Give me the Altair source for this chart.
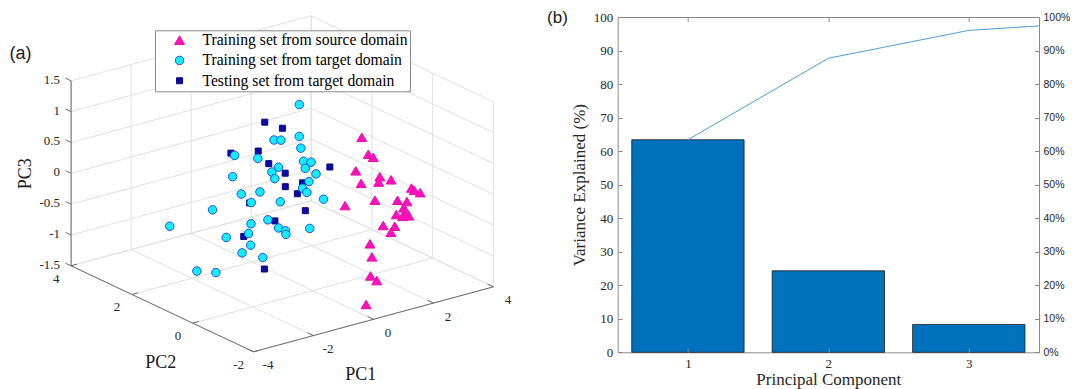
import altair as alt
import pandas as pd

SERIF = "Liberation Serif"
SANS = "Liberation Sans"

# ------------------------------------------------------------------ data (a)
GROUPS = ["Training set from source domain",
          "Training set from target domain",
          "Testing set from target domain"]

# training set from source domain (triangles)
src_pc1 = [1.94, 1.65, 2.12, 1.03, 2.44, 2.20, 2.51, 2.02, 2.99, 3.69, 3.38, 1.18, 1.67, 3.03,
           3.14, 2.93, 3.19, 2.90, 3.30, 2.91, 2.45, 2.33, 2.81, 0.49, 0.25, 0.61, 0.31, 0.26]
src_pc2 = [0.3, -0.2, 0.1, -0.4, 0.2, 0.0, -0.1, 0.4, -0.3, 0.3, -0.2, 0.1, -0.4, 0.2,
           0.0, -0.1, 0.4, -0.3, 0.3, -0.2, 0.1, -0.4, 0.2, -1.4, -1.7, -1.3, -1.8, -1.5]
src_pc3 = [0.66, 0.54, 0.36, 0.40, -0.02, -0.03, -0.01, -0.12, -0.16, -0.43, -0.31, -0.30, -0.16, -0.48,
           -0.47, -0.52, -0.78, -0.60, -0.80, -0.55, -0.79, -0.67, -0.97, -0.48, -0.59, -1.04, -0.96, -1.41]

# testing set from target domain (squares)
tst_pc1 = [-0.18, -0.30, -1.51, -1.31, -0.35, 0.40, 1.18, 0.10, 0.47, 1.01, -1.19, 0.97, -0.55, -0.88, -0.80]
tst_pc2 = [1.4, 0.7, 1.2, 0.5, 1.1, 1.3, 0.6, 1.0, 0.8, 1.5, 0.9, 1.2, 0.7, 1.4, 0.8]
tst_pc3 = [0.93, 1.01, 0.65, 0.82, 0.35, 0.05, 0.21, -0.06, 0.00, -0.41, -0.13, -0.61, -0.46, -0.83, -1.23]

# training set from target domain (circles)
trn_pc1 = [0.87, -0.48, 0.46, 0.16, 0.72, -1.59, -1.12, 0.91, 0.86, 0.28, 1.07, -0.55, 1.63, -2.06,
           -0.15, 0.89, 0.37, 1.02, -1.47, -0.34, 1.68, -0.27, -0.53, -2.73, -3.65, -0.48, -0.43, 0.31,
           0.02, 1.32, -0.74, -2.07, -0.62, -1.46, -1.24, -0.65, -3.15, -2.01]
trn_pc2 = [1.3, 0.8, 1.5, 0.6, 1.1, 1.0, 0.7, 1.2, 0.9, 1.4, 1.3, 0.8, 1.5, 0.6,
           1.1, 1.0, 0.7, 1.2, 0.9, 1.4, 1.3, 0.8, 1.5, 0.6, 1.1, 1.0, 0.7, 1.2,
           0.9, 1.4, 1.3, 0.8, 1.5, 0.6, 1.1, 1.0, 0.7, 1.2]
trn_pc3 = [1.10, 0.82, 0.53, 0.84, 0.46, 0.67, 0.63, 0.20, 0.26, 0.14, 0.04, 0.31, -0.17, 0.48,
           0.08, -0.08, -0.05, -0.32, 0.05, -0.18, -0.54, -0.21, -0.35, 0.03, -0.23, -0.52, -0.59, -0.85,
           -0.80, -0.99, -0.62, -0.55, -0.84, -0.71, -0.98, -1.11, -0.93, -1.22]

pc1_ticks = [-4, -2, 0, 2, 4]
pc2_ticks = [-2, 0, 2, 4]
pc3_ticks = [-1.5, -1, -0.5, 0, 0.5, 1, 1.5]
pc1_labels = ["-4", "-2", "0", "2", "4"]
pc2_labels = ["-2", "0", "2", "4"]
pc3_labels = ["-1.5", "-1", "-0.5", "0", "0.5", "1", "1.5"]

# ------------------------------------------------------------------ data (b)
components = [1, 2, 3]
variance = [63.4, 24.3, 8.3]
cum_pc = [1, 2, 3, 4]
cumulative = [63.4, 87.7, 96.0, 98.7]
pct_ticks = [0, 10, 20, 30, 40, 50, 60, 70, 80, 90, 100]

# ------------------------------------------------------------------ 3-D view
# oblique projection of the MATLAB-style 3-D box (page pixel units)
ORIGIN = (253.5, 350.5)   # (PC1=-4, PC2=-2, PC3=-1.5)
U1 = (30.0, -8.125)       # one unit of PC1
U2 = (-30.4, -14.33)      # one unit of PC2
U3 = (0.0, -61.67)        # one unit of PC3


def px(a, b):
    return f"{ORIGIN[0]} + ({U1[0]})*(datum.{a}+4) + ({U2[0]})*(datum.{b}+2)"


def py(a, b, c):
    return (f"{ORIGIN[1]} + ({U1[1]})*(datum.{a}+4) + ({U2[1]})*(datum.{b}+2)"
            f" + ({U3[1]})*(datum.{c}+1.5)")


WA, HA = 560, 373.3
xA = alt.Scale(domain=[8, 8 + WA], range=[0, WA])
yA = alt.Scale(domain=[15.7, 15.7 + HA], range=[0, HA])


def XA(f):
    return alt.X(f, type="quantitative", scale=xA, axis=None)


def YA(f):
    return alt.Y(f, type="quantitative", scale=yA, axis=None)


def segments(rows):
    return pd.DataFrame(rows, columns=["a1", "b1", "c1", "a2", "b2", "c2"])


grid_rows = []
for a in pc1_ticks:
    grid_rows.append((a, -2, -1.5, a, 4, -1.5))
    grid_rows.append((a, 4, -1.5, a, 4, 1.5))
for b in pc2_ticks:
    grid_rows.append((-4, b, -1.5, 4, b, -1.5))
    grid_rows.append((4, b, -1.5, 4, b, 1.5))
for c in pc3_ticks:
    grid_rows.append((-4, 4, c, 4, 4, c))
    grid_rows.append((4, -2, c, 4, 4, c))

axis_rows = [(-4, -2, -1.5, 4, -2, -1.5), (-4, -2, -1.5, -4, 4, -1.5), (-4, 4, -1.5, -4, 4, 1.5)]
for a in pc1_ticks:
    axis_rows.append((a, -2, -1.5, a, -1.8, -1.5))
for b in pc2_ticks:
    axis_rows.append((-4, b, -1.5, -3.8, b, -1.5))
for c in pc3_ticks:
    axis_rows.append((-4, 4, c, -4, 4.18, c))


def seg_layer(df, color, width):
    return alt.Chart(df).transform_calculate(
        sx1=px("a1", "b1"), sy1=py("a1", "b1", "c1"),
        sx2=px("a2", "b2"), sy2=py("a2", "b2", "c2"),
    ).mark_rule(color=color, strokeWidth=width).encode(
        x=XA("sx1"), y=YA("sy1"), x2="sx2:Q", y2="sy2:Q")


grid = seg_layer(segments(grid_rows), "#e0e0e0", 1)
axes3d = seg_layer(segments(axis_rows), "#6a6a6a", 1)


def tick_labels(a, b, c, text, **kw):
    df = pd.DataFrame({"a": a, "b": b, "c": c, "t": text})
    return alt.Chart(df).transform_calculate(
        sx=px("a", "b"), sy=py("a", "b", "c")
    ).mark_text(font=SERIF, fontSize=13, color="#262626", baseline="middle", **kw).encode(
        x=XA("sx"), y=YA("sy"), text="t:N")


lab1 = tick_labels(pc1_ticks, [-2] * 5, [-1.5] * 5, pc1_labels, align="center", dx=14.5, dy=13.5)
lab2 = tick_labels([-4] * 4, pc2_ticks, [-1.5] * 4, pc2_labels, align="center", dx=-14.8, dy=13)
lab3 = tick_labels([-4] * 7, [4] * 7, pc3_ticks, pc3_labels, align="right", dx=-11, dy=-1)


def note(text, x, y, font, size, angle=0, baseline="middle"):
    return alt.Chart(pd.DataFrame({"t": [text]})).mark_text(
        font=font, fontSize=size, color="#1a1a1a", align="center", baseline=baseline, angle=angle
    ).encode(x=alt.value(x), y=alt.value(y), text="t:N")


rows = []
for g, p1, p2, p3 in [(GROUPS[0], src_pc1, src_pc2, src_pc3),
                      (GROUPS[2], tst_pc1, tst_pc2, tst_pc3),
                      (GROUPS[1], trn_pc1, trn_pc2, trn_pc3)]:
    for a, b, c in zip(p1, p2, p3):
        rows.append({"group": g, "pc1": a, "pc2": b, "pc3": c})
pts_df = pd.DataFrame(rows)

TRI = "M0,-0.85L1,0.85L-1,0.85Z"
CIRC = "M-0.85,0A0.85,0.85,0,1,1,0.85,0A0.85,0.85,0,1,1,-0.85,0Z"
SQR = "M-0.6,-0.6L0.6,-0.6L0.6,0.6L-0.6,0.6Z"

leg = alt.Legend(orient="none", legendX=147, legendY=13.3, title=None,
                 fillColor="white", strokeColor="#8a8a8a", padding=2, cornerRadius=0,
                 labelFont=SERIF, labelFontSize=15.7, labelColor="#000000", labelLimit=400,
                 symbolSize=100, symbolStrokeWidth=1, symbolOffset=14.7, labelOffset=15,
                 rowPadding=3.3)

points = alt.Chart(pts_df).transform_calculate(
    sx=px("pc1", "pc2"), sy=py("pc1", "pc2", "pc3")
).mark_point(filled=True, size=100, opacity=1, strokeWidth=1).encode(
    x=XA("sx"), y=YA("sy"),
    shape=alt.Shape("group:N", scale=alt.Scale(domain=GROUPS, range=[TRI, CIRC, SQR]), legend=leg),
    fill=alt.Fill("group:N", scale=alt.Scale(domain=GROUPS, range=["#FF10BE", "#12EEFF", "#0B0BA8"]), legend=leg),
    stroke=alt.Stroke("group:N", scale=alt.Scale(domain=GROUPS, range=["#E80FA6", "#2050E0", "#08087E"]), legend=leg),
)

anchor = alt.Chart(pd.DataFrame({"k": [0]})).mark_rule(opacity=0).encode(
    x=alt.value(0), x2=alt.value(2), y=alt.value(-7.7))

panelA = alt.layer(
    anchor, grid, axes3d, lab1, lab2, lab3,
    note("PC1", 352.8, 357.6, SERIF, 18),
    note("PC2", 152.8, 346.0, SERIF, 18),
    note("PC3", 18.3, 156.8, SERIF, 18, angle=270),
    note("(a)", 12.6, 37.3, SANS, 18),
    points,
).properties(width=WA, height=HA)

# ------------------------------------------------------------------ panel (b)
WB, HB = 421.3, 335.3
AXC = "#8a8a8a"
LBL = "#262626"
xB = alt.Scale(domain=[0.5, 3.5], nice=False, zero=False, padding=0)
yB = alt.Scale(domain=[0, 100], nice=False, zero=False, padding=0)

bar_df = pd.DataFrame({"pc": components, "var": variance})
cum_df = pd.DataFrame({"pc": cum_pc, "cum": cumulative})

bars = alt.Chart(bar_df).transform_calculate(
    lo="datum.pc - 0.4", hi="datum.pc + 0.4"
).mark_bar(color="#0072BD", stroke="#1c1c1c", strokeWidth=0.8).encode(
    x=alt.X("lo:Q", scale=xB, axis=alt.Axis(
        orient="bottom", values=components, format="d", grid=False, ticks=False, tickSize=0,
        domainColor=AXC, labelFont=SERIF, labelFontSize=13, labelColor=LBL, labelPadding=5,
        title="Principal Component", titleFont=SERIF, titleFontSize=17, titleFontWeight="normal",
        titleColor=LBL, titleY=32, titleBaseline="alphabetic")),
    x2="hi:Q",
    y=alt.Y("var:Q", scale=yB, axis=alt.Axis(
        orient="left", values=pct_ticks, grid=False, ticks=False, tickSize=0,
        domainColor=AXC, labelFont=SERIF, labelFontSize=13, labelColor=LBL, labelPadding=5,
        title="Variance Explained (%)", titleFont=SERIF, titleFontSize=17, titleFontWeight="normal",
        titleColor=LBL, titleAngle=270, titleX=-33.7, titleY=HB / 2, titleBaseline="alphabetic",
        titleAlign="center")),
    y2=alt.datum(0),
)

line = alt.Chart(cum_df).mark_line(color="#4D9CD6", strokeWidth=1, clip=True).encode(
    x=alt.X("pc:Q", scale=xB, axis=None),
    y=alt.Y("cum:Q", scale=yB, axis=alt.Axis(
        orient="right", values=pct_ticks, grid=False, ticks=False, tickSize=0,
        domainColor=AXC, labelFont=SANS, labelFontSize=10.5, labelColor=LBL, labelPadding=4,
        labelExpr="datum.value + '%'", title=None)),
)


def tick_axis(orient, offset, values, domain=False):
    return alt.Axis(orient=orient, offset=offset, values=values, labels=False, domain=domain,
                    domainColor=AXC, ticks=True, tickSize=4.5, tickColor=AXC, tickWidth=1,
                    grid=False, title=None, zindex=1)


def tick_layer(xaxis, yaxis):
    return alt.Chart(bar_df).mark_point(opacity=0).encode(
        x=alt.X("pc:Q", scale=xB, axis=xaxis),
        y=alt.Y("var:Q", scale=yB, axis=yaxis))


t_left = tick_layer(None, tick_axis("right", -WB, pct_ticks))
t_right = tick_layer(None, tick_axis("left", -WB, pct_ticks))
t_bottom = tick_layer(tick_axis("top", -HB, components), None)
t_top = tick_layer(tick_axis("bottom", -HB, components, domain=True), None)

panelB = alt.layer(
    bars, line, t_left, t_right, t_bottom, t_top,
    note("(b)", -60.2, 5.9, SANS, 17, baseline="alphabetic"),
).resolve_scale(x="independent", y="independent").properties(width=WB, height=HB)

chart = alt.hconcat(panelA, panelB, spacing=49.7, bounds="flush", padding=0).configure_view(stroke=None)

chart.save("out.html", embed_options={"renderer": "svg", "actions": False})
